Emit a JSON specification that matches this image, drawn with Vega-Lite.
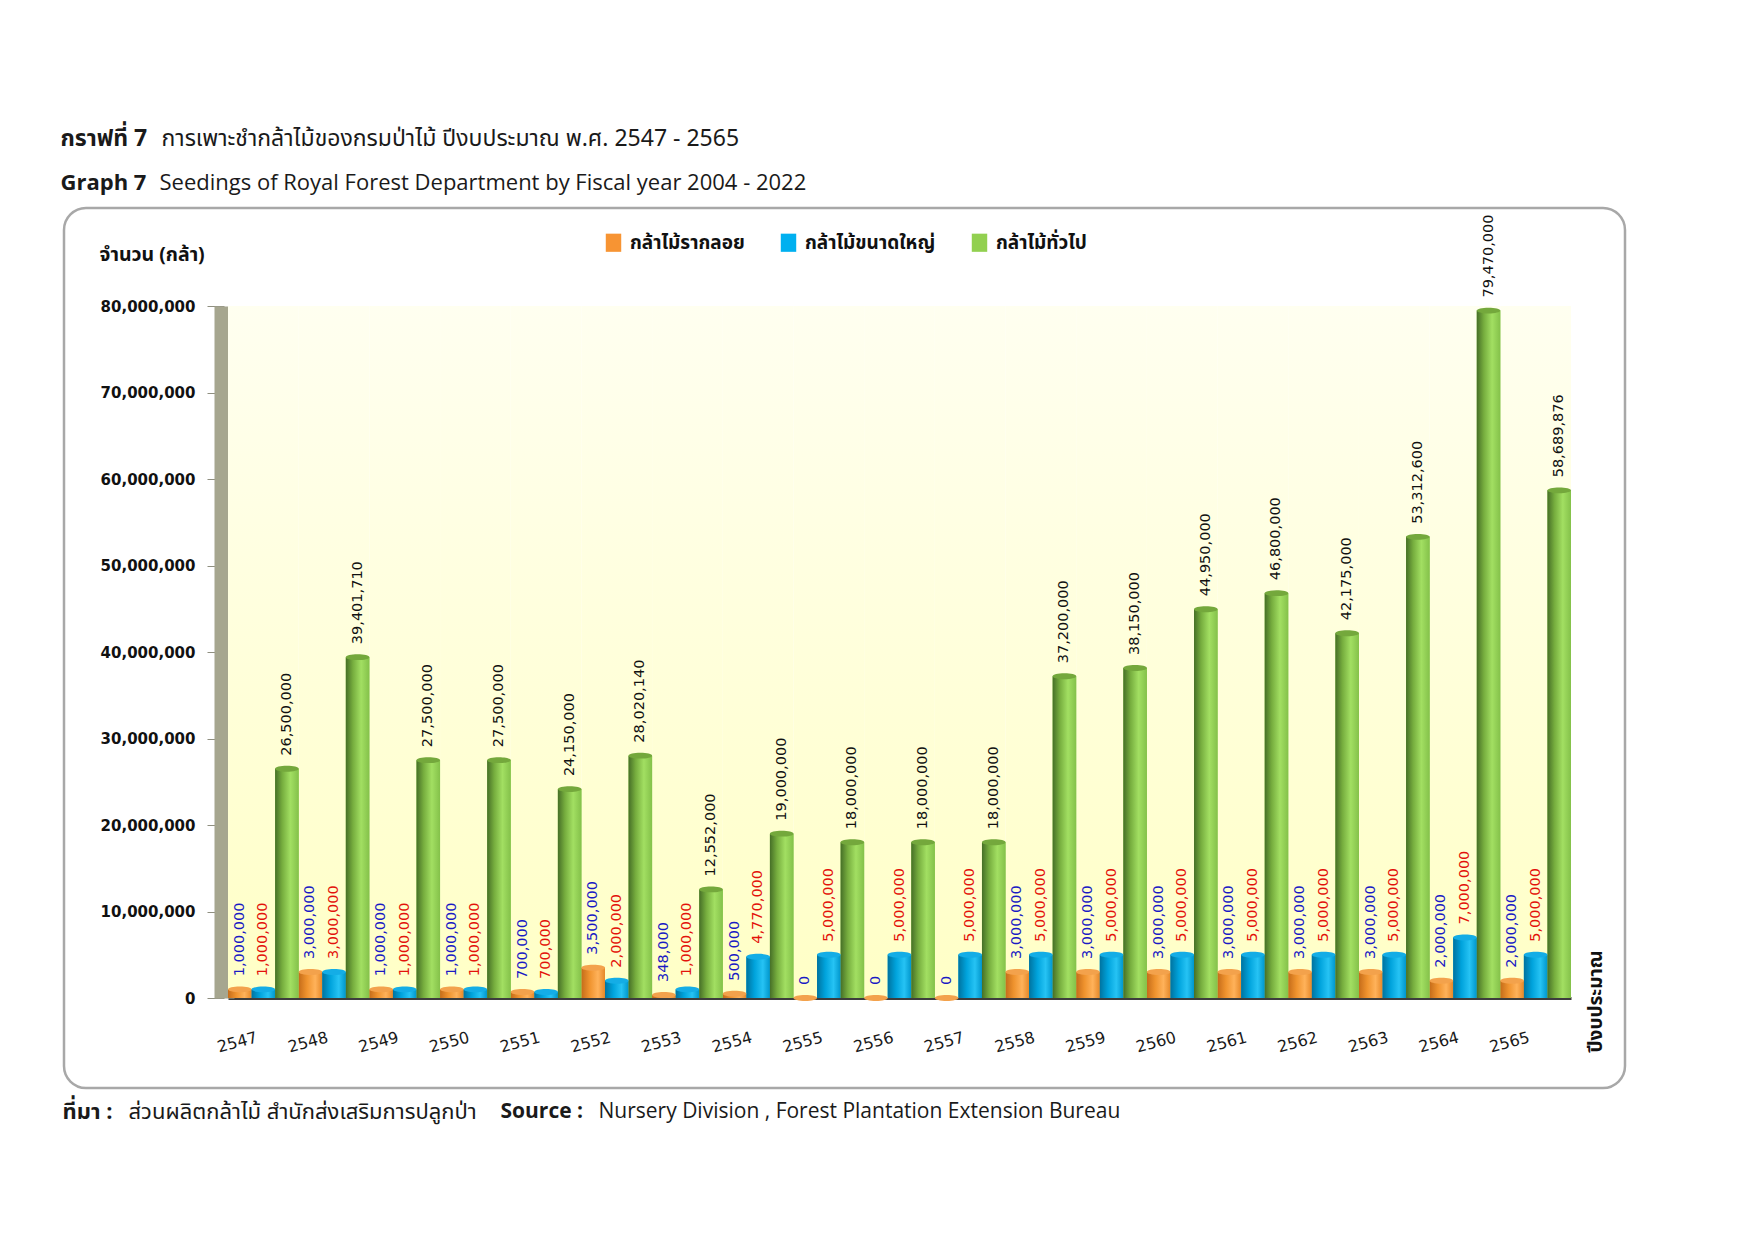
{
  "$schema": "https://vega.github.io/schema/vega-lite/v6.json",
  "width": 1561,
  "height": 880,
  "autosize": {"type": "none"},
  "padding": {"left": 64, "top": 208, "right": 130, "bottom": 153},
  "background": "white",
  "config": {
    "view": {"stroke": "#a8a8a8", "strokeWidth": 2.5, "cornerRadius": 22, "fill": "white"},
    "font": "Noto Sans Thai, Noto Sans, sans-serif"
  },
  "data": {
    "values": [
      {"year": "2547", "series": "กล้าไม้รากลอย", "value": 1000000},
      {"year": "2547", "series": "กล้าไม้ขนาดใหญ่", "value": 1000000},
      {"year": "2547", "series": "กล้าไม้ทั่วไป", "value": 26500000},
      {"year": "2548", "series": "กล้าไม้รากลอย", "value": 3000000},
      {"year": "2548", "series": "กล้าไม้ขนาดใหญ่", "value": 3000000},
      {"year": "2548", "series": "กล้าไม้ทั่วไป", "value": 39401710},
      {"year": "2549", "series": "กล้าไม้รากลอย", "value": 1000000},
      {"year": "2549", "series": "กล้าไม้ขนาดใหญ่", "value": 1000000},
      {"year": "2549", "series": "กล้าไม้ทั่วไป", "value": 27500000},
      {"year": "2550", "series": "กล้าไม้รากลอย", "value": 1000000},
      {"year": "2550", "series": "กล้าไม้ขนาดใหญ่", "value": 1000000},
      {"year": "2550", "series": "กล้าไม้ทั่วไป", "value": 27500000},
      {"year": "2551", "series": "กล้าไม้รากลอย", "value": 700000},
      {"year": "2551", "series": "กล้าไม้ขนาดใหญ่", "value": 700000},
      {"year": "2551", "series": "กล้าไม้ทั่วไป", "value": 24150000},
      {"year": "2552", "series": "กล้าไม้รากลอย", "value": 3500000},
      {"year": "2552", "series": "กล้าไม้ขนาดใหญ่", "value": 2000000},
      {"year": "2552", "series": "กล้าไม้ทั่วไป", "value": 28020140},
      {"year": "2553", "series": "กล้าไม้รากลอย", "value": 348000},
      {"year": "2553", "series": "กล้าไม้ขนาดใหญ่", "value": 1000000},
      {"year": "2553", "series": "กล้าไม้ทั่วไป", "value": 12552000},
      {"year": "2554", "series": "กล้าไม้รากลอย", "value": 500000},
      {"year": "2554", "series": "กล้าไม้ขนาดใหญ่", "value": 4770000},
      {"year": "2554", "series": "กล้าไม้ทั่วไป", "value": 19000000},
      {"year": "2555", "series": "กล้าไม้รากลอย", "value": 0},
      {"year": "2555", "series": "กล้าไม้ขนาดใหญ่", "value": 5000000},
      {"year": "2555", "series": "กล้าไม้ทั่วไป", "value": 18000000},
      {"year": "2556", "series": "กล้าไม้รากลอย", "value": 0},
      {"year": "2556", "series": "กล้าไม้ขนาดใหญ่", "value": 5000000},
      {"year": "2556", "series": "กล้าไม้ทั่วไป", "value": 18000000},
      {"year": "2557", "series": "กล้าไม้รากลอย", "value": 0},
      {"year": "2557", "series": "กล้าไม้ขนาดใหญ่", "value": 5000000},
      {"year": "2557", "series": "กล้าไม้ทั่วไป", "value": 18000000},
      {"year": "2558", "series": "กล้าไม้รากลอย", "value": 3000000},
      {"year": "2558", "series": "กล้าไม้ขนาดใหญ่", "value": 5000000},
      {"year": "2558", "series": "กล้าไม้ทั่วไป", "value": 37200000},
      {"year": "2559", "series": "กล้าไม้รากลอย", "value": 3000000},
      {"year": "2559", "series": "กล้าไม้ขนาดใหญ่", "value": 5000000},
      {"year": "2559", "series": "กล้าไม้ทั่วไป", "value": 38150000},
      {"year": "2560", "series": "กล้าไม้รากลอย", "value": 3000000},
      {"year": "2560", "series": "กล้าไม้ขนาดใหญ่", "value": 5000000},
      {"year": "2560", "series": "กล้าไม้ทั่วไป", "value": 44950000},
      {"year": "2561", "series": "กล้าไม้รากลอย", "value": 3000000},
      {"year": "2561", "series": "กล้าไม้ขนาดใหญ่", "value": 5000000},
      {"year": "2561", "series": "กล้าไม้ทั่วไป", "value": 46800000},
      {"year": "2562", "series": "กล้าไม้รากลอย", "value": 3000000},
      {"year": "2562", "series": "กล้าไม้ขนาดใหญ่", "value": 5000000},
      {"year": "2562", "series": "กล้าไม้ทั่วไป", "value": 42175000},
      {"year": "2563", "series": "กล้าไม้รากลอย", "value": 3000000},
      {"year": "2563", "series": "กล้าไม้ขนาดใหญ่", "value": 5000000},
      {"year": "2563", "series": "กล้าไม้ทั่วไป", "value": 53312600},
      {"year": "2564", "series": "กล้าไม้รากลอย", "value": 2000000},
      {"year": "2564", "series": "กล้าไม้ขนาดใหญ่", "value": 7000000},
      {"year": "2564", "series": "กล้าไม้ทั่วไป", "value": 79470000},
      {"year": "2565", "series": "กล้าไม้รากลอย", "value": 2000000},
      {"year": "2565", "series": "กล้าไม้ขนาดใหญ่", "value": 5000000},
      {"year": "2565", "series": "กล้าไม้ทั่วไป", "value": 58689876}
    ]
  },
  "resolve": {"axis": {"x": "independent", "y": "independent"}},
  "layer": [
    {
      "transform": [{"filter": "datum.series === 'กล้าไม้ทั่วไป'"}],
      "mark": {
        "type": "rect",
        "color": {
          "gradient": "linear", "x1": 0, "y1": 1, "x2": 0, "y2": 0,
          "stops": [{"offset": 0, "color": "#ffffc6"}, {"offset": 1, "color": "#fffff0"}]
        }
      },
      "encoding": {
        "x": {"field": "year", "type": "ordinal", "scale": {"range": [164, 1507], "paddingInner": 0, "paddingOuter": 0}, "axis": null},
        "y": {"datum": 0, "type": "quantitative", "scale": {"domain": [0, 80000000], "range": [790, 98], "nice": false}, "axis": null},
        "y2": {"datum": 80000000}
      }
    },
    {
      "mark": {"type": "bar"},
      "encoding": {
        "x": {
          "field": "year", "type": "ordinal",
          "scale": {"range": [164, 1507], "paddingInner": 0, "paddingOuter": 0},
          "axis": {
            "orient": "bottom", "offset": -90, "grid": false,
            "domainColor": "#3d3d3d", "domainWidth": 3,
            "ticks": false, "tickSize": 0,
            "labelAngle": -15, "labelAlign": "center", "labelBaseline": "middle",
            "labelPadding": 44, "labelOffset": -26,
            "labelFont": "DejaVu Sans", "labelFontSize": 16, "labelColor": "#1a1a1a",
            "title": "ปีงบประมาณ", "titleAngle": 270, "titleX": 1531, "titleY": 3,
            "titleAlign": "center", "titleBaseline": "middle",
            "titleFontSize": 19, "titleFontWeight": "bold", "titleColor": "#111111"
          }
        },
        "xOffset": {"field": "series", "scale": {"domain": ["กล้าไม้รากลอย", "กล้าไม้ขนาดใหญ่", "กล้าไม้ทั่วไป"], "paddingInner": 0, "paddingOuter": 0}},
        "y": {
          "field": "value", "type": "quantitative",
          "scale": {"domain": [0, 80000000], "range": [790, 98], "nice": false},
          "axis": {
            "orient": "left", "offset": -160, "grid": false,
            "values": [0, 10000000, 20000000, 30000000, 40000000, 50000000, 60000000, 70000000, 80000000],
            "format": ",d",
            "domainColor": "#a6a68f", "domainWidth": 20,
            "ticks": true, "tickSize": 17, "tickColor": "#8f8f80",
            "labelPadding": 12, "labelFont": "DejaVu Sans", "labelFontSize": 15,
            "labelFontWeight": "bold", "labelColor": "#111111",
            "title": "จำนวน (กล้า)", "titleAngle": 0, "titleX": -125, "titleY": 46,
            "titleAlign": "left", "titleBaseline": "middle",
            "titleFontSize": 19.5, "titleFontWeight": "bold", "titleColor": "#111111"
          }
        },
        "color": {
          "field": "series", "type": "nominal",
          "scale": {"domain": ["กล้าไม้รากลอย", "กล้าไม้ขนาดใหญ่", "กล้าไม้ทั่วไป"], "range": ["#f79433", "#00b0f0", "#92d050"]},
          "legend": {
            "orient": "none", "legendX": 540, "legendY": 25, "direction": "horizontal",
            "title": null, "symbolType": "M-0.85,-1H0.85V1H-0.85Z", "symbolSize": 330,
            "symbolStrokeWidth": 0, "labelFontSize": 19, "labelFontWeight": "bold",
            "labelColor": "#111111", "labelOffset": 7, "columnPadding": 34
          }
        }
      }
    },
    {
      "transform": [{"filter": "datum.series === 'กล้าไม้รากลอย'"}],
      "mark": {
        "type": "bar",
        "color": {
          "gradient": "linear", "x1": 0, "y1": 0, "x2": 1, "y2": 0,
          "stops": [
            {"offset": 0, "color": "#c56c1a"},
            {"offset": 0.35, "color": "#ef932e"},
            {"offset": 0.7, "color": "#ffb25a"},
            {"offset": 1, "color": "#e58829"}
          ]
        }
      },
      "encoding": {
        "x": {
          "field": "year", "type": "ordinal",
          "scale": {"range": [164, 1507], "paddingInner": 0, "paddingOuter": 0},
          "axis": {
            "orient": "top", "domain": false, "ticks": false, "labels": false, "grid": false,
            "title": "กราฟที่ 7", "titleX": -4, "titleY": -70, "titleAngle": 0,
            "titleAlign": "left", "titleBaseline": "middle", "titleLimit": 2000,
            "titleFontSize": 23, "titleFontWeight": "bold", "titleColor": "#1a1a1a"
          }
        },
        "xOffset": {"field": "series", "scale": {"domain": ["กล้าไม้รากลอย", "กล้าไม้ขนาดใหญ่", "กล้าไม้ทั่วไป"], "paddingInner": 0, "paddingOuter": 0}},
        "y": {
          "field": "value", "type": "quantitative",
          "scale": {"domain": [0, 80000000], "range": [790, 98], "nice": false},
          "axis": {
            "orient": "left", "domain": false, "ticks": false, "labels": false, "grid": false,
            "title": "การเพาะชำกล้าไม้ของกรมป่าไม้ ปีงบประมาณ พ.ศ. 2547 - 2565",
            "titleX": 97, "titleY": -70, "titleAngle": 0,
            "titleAlign": "left", "titleBaseline": "middle", "titleLimit": 2000,
            "titleFontSize": 23, "titleFontWeight": "normal", "titleColor": "#1a1a1a"
          }
        }
      }
    },
    {
      "transform": [{"filter": "datum.series === 'กล้าไม้ขนาดใหญ่'"}],
      "mark": {
        "type": "bar",
        "color": {
          "gradient": "linear", "x1": 0, "y1": 0, "x2": 1, "y2": 0,
          "stops": [
            {"offset": 0, "color": "#00739f"},
            {"offset": 0.35, "color": "#00a3dc"},
            {"offset": 0.7, "color": "#26c3f4"},
            {"offset": 1, "color": "#0096cc"}
          ]
        }
      },
      "encoding": {
        "x": {
          "field": "year", "type": "ordinal",
          "scale": {"range": [164, 1507], "paddingInner": 0, "paddingOuter": 0},
          "axis": {
            "orient": "top", "domain": false, "ticks": false, "labels": false, "grid": false,
            "title": "Graph 7", "titleX": -4, "titleY": -26, "titleAngle": 0,
            "titleAlign": "left", "titleBaseline": "middle", "titleLimit": 2000,
            "titleFont": "Open Sans", "titleFontSize": 22, "titleFontWeight": "bold", "titleColor": "#1a1a1a"
          }
        },
        "xOffset": {"field": "series", "scale": {"domain": ["กล้าไม้รากลอย", "กล้าไม้ขนาดใหญ่", "กล้าไม้ทั่วไป"], "paddingInner": 0, "paddingOuter": 0}},
        "y": {
          "field": "value", "type": "quantitative",
          "scale": {"domain": [0, 80000000], "range": [790, 98], "nice": false},
          "axis": {
            "orient": "left", "domain": false, "ticks": false, "labels": false, "grid": false,
            "title": "Seedings of Royal Forest Department by Fiscal year 2004 - 2022",
            "titleX": 95, "titleY": -26, "titleAngle": 0,
            "titleAlign": "left", "titleBaseline": "middle", "titleLimit": 2000,
            "titleFont": "Open Sans", "titleFontSize": 22, "titleFontWeight": "normal", "titleColor": "#1a1a1a"
          }
        }
      }
    },
    {
      "transform": [{"filter": "datum.series === 'กล้าไม้ทั่วไป'"}],
      "mark": {
        "type": "bar",
        "color": {
          "gradient": "linear", "x1": 0, "y1": 0, "x2": 1, "y2": 0,
          "stops": [
            {"offset": 0, "color": "#466f27"},
            {"offset": 0.3, "color": "#76ad3e"},
            {"offset": 0.65, "color": "#a2df62"},
            {"offset": 1, "color": "#84c14a"}
          ]
        }
      },
      "encoding": {
        "x": {
          "field": "year", "type": "ordinal",
          "scale": {"range": [164, 1507], "paddingInner": 0, "paddingOuter": 0},
          "axis": {
            "orient": "top", "domain": false, "ticks": false, "labels": false, "grid": false,
            "title": "ที่มา :", "titleX": -2, "titleY": 903, "titleAngle": 0,
            "titleAlign": "left", "titleBaseline": "middle", "titleLimit": 2000,
            "titleFontSize": 22, "titleFontWeight": "bold", "titleColor": "#1a1a1a"
          }
        },
        "xOffset": {"field": "series", "scale": {"domain": ["กล้าไม้รากลอย", "กล้าไม้ขนาดใหญ่", "กล้าไม้ทั่วไป"], "paddingInner": 0, "paddingOuter": 0}},
        "y": {
          "field": "value", "type": "quantitative",
          "scale": {"domain": [0, 80000000], "range": [790, 98], "nice": false},
          "axis": {
            "orient": "left", "domain": false, "ticks": false, "labels": false, "grid": false,
            "title": "ส่วนผลิตกล้าไม้  สำนักส่งเสริมการปลูกป่า",
            "titleX": 64, "titleY": 903, "titleAngle": 0,
            "titleAlign": "left", "titleBaseline": "middle", "titleLimit": 2000,
            "titleFontSize": 22, "titleFontWeight": "normal", "titleColor": "#1a1a1a"
          }
        }
      }
    },
    {
      "mark": {
        "type": "point", "shape": "M-1,0A1,0.25,0,1,1,1,0A1,0.25,0,1,1,-1,0Z",
        "filled": true, "size": 555, "opacity": 1, "strokeWidth": 0
      },
      "encoding": {
        "x": {
          "field": "year", "type": "ordinal",
          "scale": {"range": [164, 1507], "paddingInner": 0, "paddingOuter": 0},
          "axis": {
            "orient": "top", "domain": false, "ticks": false, "labels": false, "grid": false,
            "title": "Source :", "titleX": 436, "titleY": 903, "titleAngle": 0,
            "titleAlign": "left", "titleBaseline": "middle", "titleLimit": 2000,
            "titleFont": "Open Sans", "titleFontSize": 21, "titleFontWeight": "bold", "titleColor": "#1a1a1a"
          }
        },
        "xOffset": {"field": "series", "scale": {"domain": ["กล้าไม้รากลอย", "กล้าไม้ขนาดใหญ่", "กล้าไม้ทั่วไป"], "paddingInner": 0, "paddingOuter": 0}},
        "y": {
          "field": "value", "type": "quantitative",
          "scale": {"domain": [0, 80000000], "range": [790, 98], "nice": false},
          "axis": {
            "orient": "left", "domain": false, "ticks": false, "labels": false, "grid": false,
            "title": "Nursery Division , Forest Plantation Extension Bureau",
            "titleX": 534, "titleY": 903, "titleAngle": 0,
            "titleAlign": "left", "titleBaseline": "middle", "titleLimit": 2000,
            "titleFont": "Open Sans", "titleFontSize": 21, "titleFontWeight": "normal", "titleColor": "#1a1a1a"
          }
        },
        "color": {
          "condition": [
            {"test": "datum.series === 'กล้าไม้รากลอย'", "value": "#f3a24c"},
            {"test": "datum.series === 'กล้าไม้ขนาดใหญ่'", "value": "#14ade6"}
          ],
          "value": "#74a83c"
        }
      }
    },
    {
      "mark": {
        "type": "text", "angle": 270, "align": "left", "baseline": "middle",
        "dx": 13, "font": "DejaVu Sans", "fontSize": 14.5
      },
      "encoding": {
        "x": {"field": "year", "type": "ordinal", "scale": {"range": [164, 1507], "paddingInner": 0, "paddingOuter": 0}, "axis": null},
        "xOffset": {"field": "series", "scale": {"domain": ["กล้าไม้รากลอย", "กล้าไม้ขนาดใหญ่", "กล้าไม้ทั่วไป"], "paddingInner": 0, "paddingOuter": 0}},
        "y": {"field": "value", "type": "quantitative", "scale": {"domain": [0, 80000000], "range": [790, 98], "nice": false}, "axis": null},
        "text": {"field": "value", "type": "quantitative", "format": ","},
        "color": {
          "condition": [
            {"test": "datum.series === 'กล้าไม้รากลอย'", "value": "#1a1ac4"},
            {"test": "datum.series === 'กล้าไม้ขนาดใหญ่'", "value": "#e3120b"}
          ],
          "value": "#111111"
        }
      }
    }
  ]
}
